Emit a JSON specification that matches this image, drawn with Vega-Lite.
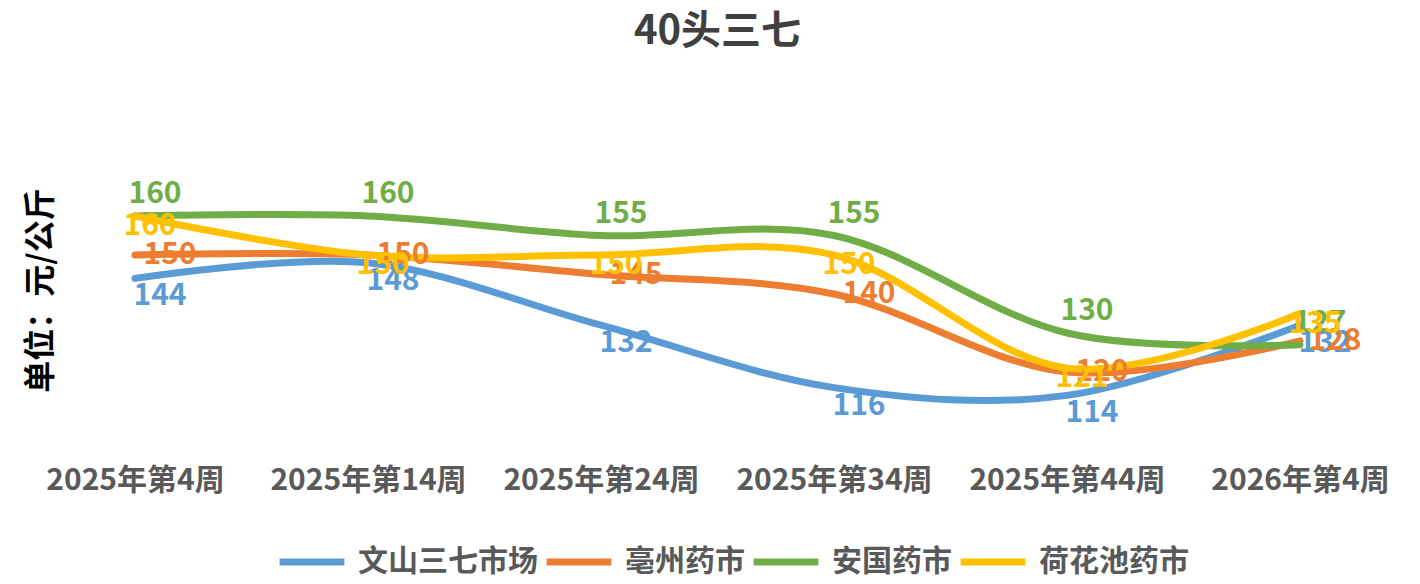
{
  "$schema": "https://vega.github.io/schema/vega-lite/v6.json",
  "autosize": {"type": "none"},
  "width": 1275,
  "height": 312,
  "padding": {"left": 80, "top": 138, "right": 65, "bottom": 134},
  "background": "white",
  "title": {
    "text": "40头三七",
    "font": "Noto Sans CJK SC",
    "fontSize": 40,
    "fontWeight": "bold",
    "color": "#404040",
    "anchor": "middle",
    "offset": 86
  },
  "data": {
    "values": [
      {"week": "2025年第4周", "market": "文山三七市场", "price": 144},
      {"week": "2025年第14周", "market": "文山三七市场", "price": 148},
      {"week": "2025年第24周", "market": "文山三七市场", "price": 132},
      {"week": "2025年第34周", "market": "文山三七市场", "price": 116},
      {"week": "2025年第44周", "market": "文山三七市场", "price": 114},
      {"week": "2026年第4周", "market": "文山三七市场", "price": 132},
      {"week": "2025年第4周", "market": "亳州药市", "price": 150},
      {"week": "2025年第14周", "market": "亳州药市", "price": 150},
      {"week": "2025年第24周", "market": "亳州药市", "price": 145},
      {"week": "2025年第34周", "market": "亳州药市", "price": 140},
      {"week": "2025年第44周", "market": "亳州药市", "price": 120},
      {"week": "2026年第4周", "market": "亳州药市", "price": 128},
      {"week": "2025年第4周", "market": "安国药市", "price": 160},
      {"week": "2025年第14周", "market": "安国药市", "price": 160},
      {"week": "2025年第24周", "market": "安国药市", "price": 155},
      {"week": "2025年第34周", "market": "安国药市", "price": 155},
      {"week": "2025年第44周", "market": "安国药市", "price": 130},
      {"week": "2026年第4周", "market": "安国药市", "price": 127},
      {"week": "2025年第4周", "market": "荷花池药市", "price": 160},
      {"week": "2025年第14周", "market": "荷花池药市", "price": 150},
      {"week": "2025年第24周", "market": "荷花池药市", "price": 150},
      {"week": "2025年第34周", "market": "荷花池药市", "price": 150},
      {"week": "2025年第44周", "market": "荷花池药市", "price": 121},
      {"week": "2026年第4周", "market": "荷花池药市", "price": 135}
    ]
  },
  "encoding": {
    "x": {
      "field": "week",
      "type": "ordinal",
      "sort": null,
      "scale": {"type": "point", "padding": 0.236},
      "axis": {
        "title": null,
        "domain": false,
        "ticks": false,
        "labelAngle": 0,
        "labelPadding": 15,
        "labelLimit": 300,
        "labelFont": "Noto Sans CJK SC",
        "labelFontSize": 30,
        "labelFontWeight": "bold",
        "labelColor": "#595959"
      }
    },
    "y": {
      "field": "price",
      "type": "quantitative",
      "scale": {"domain": [100, 180], "zero": false, "nice": false},
      "axis": {
        "title": "单位：元/公斤",
        "titleFont": "Noto Sans CJK SC",
        "titleFontSize": 32,
        "titleFontWeight": "bold",
        "titleColor": "#000000",
        "titleX": -40,
        "titleY": 152,
        "titleAlign": "center",
        "titleBaseline": "middle",
        "domain": false,
        "ticks": false,
        "labels": false,
        "grid": false
      }
    }
  },
  "layer": [
    {
      "mark": {"type": "line", "interpolate": "cardinal", "strokeWidth": 7, "strokeCap": "round"},
      "encoding": {
        "color": {
          "field": "market",
          "type": "nominal",
          "scale": {
            "domain": ["文山三七市场", "亳州药市", "安国药市", "荷花池药市"],
            "range": ["#5B9BD5", "#ED7D31", "#70AD47", "#FFC000"]
          },
          "legend": {
            "title": null,
            "orient": "none",
            "direction": "horizontal",
            "legendX": 196,
            "legendY": 388,
            "symbolType": "stroke",
            "symbolSize": 4200,
            "symbolStrokeWidth": 7,
            "labelFont": "Noto Sans CJK SC",
            "labelFontSize": 30,
            "labelFontWeight": "bold",
            "labelColor": "#595959",
            "labelOffset": 10,
            "columnPadding": -6,
            "labelLimit": 400
          }
        }
      }
    },
    {
      "transform": [{"filter": "datum.market === '文山三七市场'"}],
      "mark": {"type": "text", "font": "Noto Sans CJK SC", "fontSize": 30, "fontWeight": "bold", "color": "#5B9BD5", "dx": 25, "dy": 18},
      "encoding": {"text": {"field": "price", "type": "quantitative"}}
    },
    {
      "transform": [{"filter": "datum.market === '亳州药市'"}],
      "mark": {"type": "text", "font": "Noto Sans CJK SC", "fontSize": 30, "fontWeight": "bold", "color": "#ED7D31", "dx": 35, "dy": 0},
      "encoding": {"text": {"field": "price", "type": "quantitative"}}
    },
    {
      "transform": [{"filter": "datum.market === '安国药市'"}],
      "mark": {"type": "text", "font": "Noto Sans CJK SC", "fontSize": 30, "fontWeight": "bold", "color": "#70AD47", "dx": 20, "dy": -22},
      "encoding": {"text": {"field": "price", "type": "quantitative"}}
    },
    {
      "transform": [{"filter": "datum.market === '荷花池药市'"}],
      "mark": {"type": "text", "font": "Noto Sans CJK SC", "fontSize": 30, "fontWeight": "bold", "color": "#FFC000", "dx": 15, "dy": 10},
      "encoding": {"text": {"field": "price", "type": "quantitative"}}
    }
  ],
  "config": {"view": {"stroke": null}}
}
